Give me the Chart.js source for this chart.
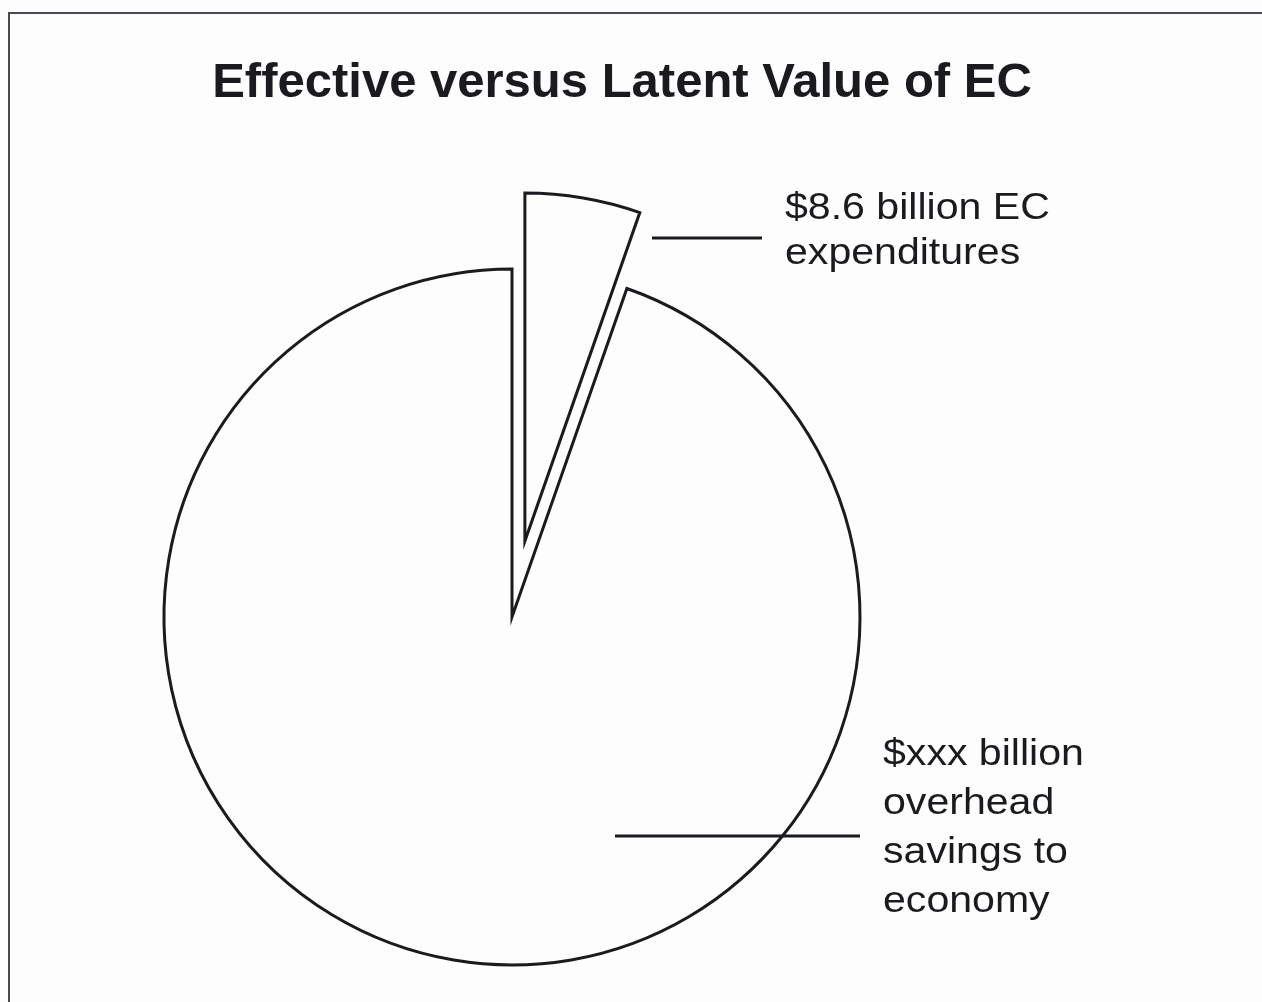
<!DOCTYPE html>
<html>
<head>
<meta charset="utf-8">
<title>Effective versus Latent Value of EC</title>
<script src="https://cdn.jsdelivr.net/npm/chart.js@4.4.1/dist/chart.umd.min.js"></script>
<style>
  html, body { margin: 0; padding: 0; background: #fdfdfd; }
  #wrap { width: 1262px; height: 1002px; }
</style>
</head>
<body>
<div id="wrap"><canvas id="chart" width="1262" height="1002"></canvas></div>
<script>
// values ($ billions)
const categories = ['EC expenditures', 'Overhead savings to economy'];
const values = [8.6, 152];

const titleText = 'Effective versus Latent Value of EC';
const ecLabel = ['$8.6 billion EC', 'expenditures'];
const savingsLabel = ['$xxx billion', 'overhead', 'savings to', 'economy'];

const R = 348;          // pie radius
const pulled = [77, 0]; // how far each slice is pulled out of the pie
const ink = '#1b1b1f';

// chart.js "offset" also shrinks and grows the arc, so pull slices out by hand
const explode = {
  id: 'explode',
  afterDatasetUpdate(chart, args) {
    args.meta.data.forEach((arc, i) => {
      const d = pulled[i] || 0;
      if (!d) return;
      const half = (arc.startAngle + arc.endAngle) / 2;
      arc.x += Math.cos(half) * d;
      arc.y += Math.sin(half) * d;
    });
  }
};

function drawLines(ctx, lines, x, y, step) {
  lines.forEach((t, i) => {
    ctx.save();
    ctx.translate(x, y + i * step);
    ctx.scale(1.11, 1); // the scan's type is a bit wider than Arial
    ctx.fillText(t, 0, 0);
    ctx.restore();
  });
}

const pieText = {
  id: 'pieText',
  afterDraw(chart) {
    const ctx = chart.ctx;
    const arc = chart.getDatasetMeta(0).data[1];
    const cx = arc.x, cy = arc.y;
    ctx.save();

    // frame of the scanned page
    ctx.strokeStyle = '#4a4a52';
    ctx.lineWidth = 2;
    ctx.beginPath();
    ctx.moveTo(9, chart.height);
    ctx.lineTo(9, 13);
    ctx.lineTo(chart.width, 13);
    ctx.stroke();

    // title
    ctx.fillStyle = ink;
    ctx.font = 'bold 49px "Liberation Sans", Arial, sans-serif';
    ctx.textAlign = 'center';
    ctx.textBaseline = 'alphabetic';
    ctx.fillText(titleText, 622, 97);

    // leader lines
    ctx.strokeStyle = ink;
    ctx.lineWidth = 3;
    ctx.beginPath();
    ctx.moveTo(cx + 140, cy - 379);
    ctx.lineTo(cx + 250, cy - 379);
    ctx.moveTo(cx + 103, cy + 219);
    ctx.lineTo(cx + 348, cy + 219);
    ctx.stroke();

    // slice labels
    ctx.font = '37px "Liberation Sans", Arial, sans-serif';
    ctx.textAlign = 'left';
    drawLines(ctx, ecLabel, cx + 273, cy - 398, 45);
    drawLines(ctx, savingsLabel, cx + 371, cy + 148, 49);

    ctx.restore();
  }
};

new Chart(document.getElementById('chart'), {
  type: 'pie',
  data: {
    labels: categories,
    datasets: [{
      data: values,
      backgroundColor: '#fdfdfd',
      borderColor: ink,
      borderWidth: 3,
      borderJoinStyle: 'miter'
    }]
  },
  options: {
    responsive: false,
    animation: false,
    events: [],
    radius: R,
    layout: { padding: { left: 0, right: 238, top: 232, bottom: 0 } },
    plugins: {
      legend: { display: false },
      title: { display: false },
      tooltip: { enabled: false }
    }
  },
  plugins: [explode, pieText]
});
</script>
</body>
</html>
